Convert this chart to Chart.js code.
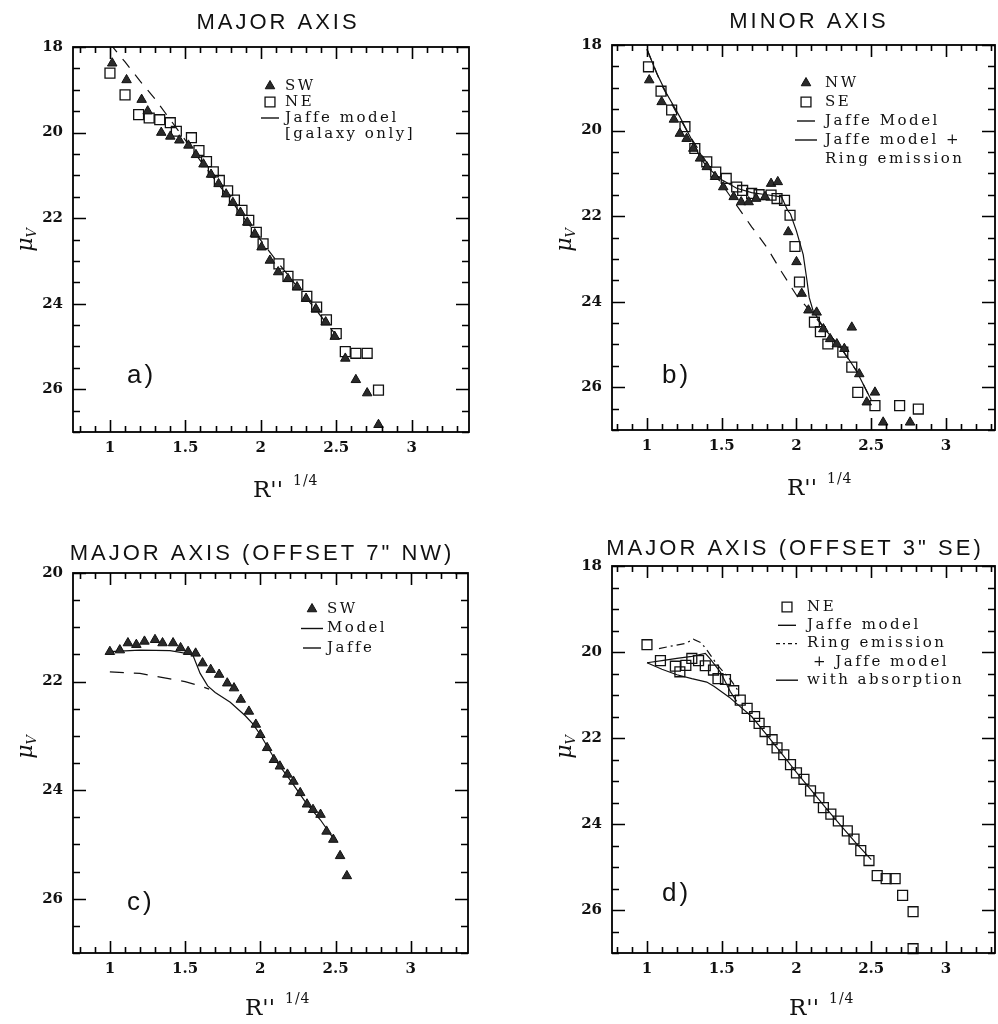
<!DOCTYPE html>
<html>
<head>
<meta charset="utf-8">
<script src="https://cdn.jsdelivr.net/npm/chart.js@4.4.0/dist/chart.umd.min.js"></script>
<style>
  html, body { margin: 0; padding: 0; background: #fff; overflow: hidden; width: 998px; height: 1024px; }
  .panel { position: absolute; }
</style>
</head>
<body>
<div class="panel" style="left:0;top:0"><canvas id="chartA" width="499" height="512"></canvas></div>
<div class="panel" style="left:499px;top:0"><canvas id="chartB" width="520" height="512"></canvas></div>
<div class="panel" style="left:0;top:512px"><canvas id="chartC" width="499" height="512"></canvas></div>
<div class="panel" style="left:499px;top:512px"><canvas id="chartD" width="520" height="512"></canvas></div>
<script>
// --- a) major axis ---
const aSwX = [1.015, 1.11, 1.21, 1.25, 1.34, 1.40, 1.46, 1.52, 1.57, 1.62, 1.67, 1.72, 1.77, 1.815, 1.865, 1.91, 1.96, 2.005, 2.06, 2.115, 2.18, 2.24, 2.30, 2.365, 2.43, 2.49, 2.56, 2.63, 2.705, 2.78];
const aSwY = [18.38, 18.77, 19.23, 19.5, 20.0, 20.09, 20.18, 20.3, 20.52, 20.74, 20.98, 21.2, 21.44, 21.64, 21.87, 22.1, 22.37, 22.68, 22.99, 23.26, 23.42, 23.61, 23.88, 24.12, 24.43, 24.77, 25.28, 25.78, 26.09, 26.83];
const aNeX = [1.0, 1.10, 1.19, 1.26, 1.33, 1.40, 1.44, 1.54, 1.59, 1.64, 1.685, 1.725, 1.78, 1.825, 1.875, 1.92, 1.97, 2.015, 2.12, 2.18, 2.245, 2.305, 2.37, 2.435, 2.5, 2.56, 2.63, 2.705, 2.78];
const aNeY = [18.61, 19.12, 19.58, 19.66, 19.70, 19.77, 19.97, 20.12, 20.42, 20.68, 20.92, 21.12, 21.36, 21.58, 21.82, 22.05, 22.33, 22.6, 23.07, 23.36, 23.56, 23.83, 24.08, 24.38, 24.7, 25.12, 25.16, 25.16, 26.02];
const aJaffeX = [1.0, 1.1, 1.2, 1.3, 1.4, 1.5, 1.6, 1.7, 1.8, 1.9, 2.0, 2.1, 2.2, 2.3, 2.4, 2.5];
const aJaffeY = [17.92, 18.35, 18.8, 19.22, 19.7, 20.18, 20.66, 21.12, 21.58, 22.05, 22.52, 22.98, 23.42, 23.86, 24.3, 24.74];

// --- b) minor axis ---
const bNwX = [1.015, 1.098, 1.18, 1.22, 1.265, 1.31, 1.355, 1.40, 1.455, 1.51, 1.58, 1.63, 1.68, 1.73, 1.79, 1.83, 1.875, 1.945, 2.0, 2.035, 2.08, 2.135, 2.18, 2.225, 2.27, 2.32, 2.37, 2.42, 2.47, 2.525, 2.58, 2.76];
const bNwY = [18.82, 19.33, 19.74, 20.07, 20.19, 20.42, 20.65, 20.85, 21.08, 21.32, 21.55, 21.67, 21.67, 21.59, 21.55, 21.24, 21.2, 22.37, 23.07, 23.81, 24.2, 24.25, 24.64, 24.87, 24.99, 25.1, 24.6, 25.69, 26.35, 26.12, 26.82, 26.82];
const bSeX = [1.01, 1.094, 1.165, 1.254, 1.32, 1.40, 1.46, 1.53, 1.60, 1.64, 1.70, 1.75, 1.83, 1.87, 1.92, 1.957, 1.99, 2.02, 2.12, 2.16, 2.21, 2.31, 2.37, 2.41, 2.525, 2.69, 2.815];
const bSeY = [18.51, 19.08, 19.52, 19.91, 20.42, 20.73, 20.97, 21.12, 21.32, 21.40, 21.47, 21.5, 21.51, 21.59, 21.63, 21.98, 22.71, 23.54, 24.48, 24.7, 24.99, 25.18, 25.53, 26.12, 26.43, 26.43, 26.51];
const bJaffeX = [1.0, 1.1, 1.2, 1.3, 1.4, 1.5, 1.6, 1.7, 1.8, 1.9, 2.0, 2.1, 2.2, 2.3, 2.4, 2.5];
const bJaffeY = [18.1, 18.95, 19.6, 20.2, 20.75, 21.25, 21.75, 22.25, 22.72, 23.3, 23.85, 24.25, 24.68, 25.1, 25.61, 26.3];
const bRingX = [1.0, 1.065, 1.13, 1.22, 1.30, 1.355, 1.4, 1.5, 1.6, 1.7, 1.8, 1.9, 1.94, 1.96, 2.0, 2.045, 2.07, 2.085, 2.11, 2.18, 2.31, 2.4, 2.5];
const bRingY = [18.1, 18.66, 19.13, 19.68, 20.22, 20.62, 20.85, 21.15, 21.35, 21.45, 21.5, 21.55, 21.86, 21.95, 22.35, 22.9, 23.5, 23.9, 24.2, 24.6, 25.14, 25.61, 26.3];

// --- c) major axis, offset 7" NW ---
const cSwX = [1.0, 1.066, 1.12, 1.176, 1.23, 1.30, 1.35, 1.42, 1.47, 1.52, 1.57, 1.616, 1.67, 1.726, 1.78, 1.825, 1.87, 1.924, 1.97, 2.0, 2.045, 2.09, 2.13, 2.18, 2.22, 2.265, 2.31, 2.35, 2.40, 2.44, 2.485, 2.53, 2.575];
const cSwY = [21.45, 21.42, 21.29, 21.32, 21.26, 21.23, 21.29, 21.29, 21.38, 21.45, 21.48, 21.66, 21.78, 21.87, 22.03, 22.12, 22.33, 22.55, 22.79, 22.98, 23.22, 23.44, 23.56, 23.71, 23.84, 24.05, 24.26, 24.36, 24.45, 24.76, 24.91, 25.21, 25.58];
const cModelX = [1.0, 1.2, 1.4, 1.55, 1.6, 1.65, 1.7, 1.8, 1.9, 1.95, 2.0, 2.1, 2.2, 2.3, 2.4, 2.5];
const cModelY = [21.45, 21.42, 21.43, 21.5, 21.85, 22.08, 22.2, 22.38, 22.63, 22.78, 22.98, 23.45, 23.82, 24.22, 24.55, 24.95];
const cJaffeX = [1.0, 1.2, 1.4, 1.5, 1.6, 1.66];
const cJaffeY = [21.82, 21.85, 21.95, 22.0, 22.08, 22.14];

// --- d) major axis, offset 3" SE ---
const dNeX = [1.0, 1.09, 1.19, 1.22, 1.26, 1.30, 1.345, 1.39, 1.445, 1.475, 1.525, 1.58, 1.624, 1.67, 1.72, 1.75, 1.79, 1.837, 1.87, 1.915, 1.96, 2.0, 2.05, 2.094, 2.15, 2.18, 2.23, 2.28, 2.34, 2.385, 2.43, 2.485, 2.54, 2.60, 2.66, 2.71, 2.78, 2.78];
const dNeY = [19.83, 20.2, 20.33, 20.46, 20.31, 20.15, 20.2, 20.32, 20.42, 20.62, 20.64, 20.9, 21.12, 21.31, 21.5, 21.66, 21.85, 22.04, 22.23, 22.39, 22.62, 22.81, 22.96, 23.23, 23.39, 23.62, 23.77, 23.93, 24.16, 24.35, 24.62, 24.85, 25.2, 25.27, 25.27, 25.66, 26.04, 26.9];
const dJaffeX = [1.0, 1.1, 1.2, 1.3, 1.4, 1.45, 1.55, 1.6, 1.7, 1.8, 1.9, 2.0, 2.1, 2.2, 2.3, 2.4, 2.5];
const dJaffeY = [20.25, 20.4, 20.53, 20.62, 20.7, 20.8, 21.05, 21.2, 21.5, 21.92, 22.36, 22.8, 23.22, 23.64, 24.05, 24.45, 24.83];
const dRingX = [1.08, 1.18, 1.26, 1.31, 1.36, 1.40, 1.47, 1.56, 1.62];
const dRingY = [19.92, 19.85, 19.8, 19.7, 19.78, 19.95, 20.3, 20.65, 20.95];
const dAbsX = [1.0, 1.1, 1.2, 1.3, 1.39, 1.42, 1.49, 1.557, 1.6];
const dAbsY = [20.25, 20.2, 20.15, 20.1, 20.03, 20.15, 20.46, 20.92, 21.15];

// helpers
function pts(xs, ys) { return xs.map((x, i) => ({ x: x, y: ys[i] })); }
function triSet(label, xs, ys) {
  return { label, data: pts(xs, ys), pointStyle: 'triangle', pointRadius: 5.5, backgroundColor: '#2a2a2a',
    borderColor: '#111', borderWidth: 1, showLine: false, order: 0, clip: false };
}
function sqSet(label, xs, ys) {
  return { label, data: pts(xs, ys), pointStyle: 'rect', pointRadius: 7, backgroundColor: 'rgba(255,255,255,0)',
    borderColor: '#111', borderWidth: 1.3, showLine: false, order: 0, clip: false };
}
function lineSet(label, xs, ys, dash) {
  return { label, data: pts(xs, ys), showLine: true, pointRadius: 0, borderColor: '#111', borderWidth: 1.2,
    borderDash: dash || [], tension: 0, order: 1 };
}

// inward ticks on all four sides + box
const frame = {
  id: 'frame',
  afterDraw(chart) {
    const ctx = chart.ctx;
    const a = chart.chartArea;
    const xs = chart.scales.x, ys = chart.scales.y;
    ctx.save();
    ctx.setLineDash([]);
    ctx.globalAlpha = 1;
    ctx.strokeStyle = '#000';
    ctx.lineWidth = 1.8;
    ctx.strokeRect(a.left, a.top, a.right - a.left, a.bottom - a.top);
    ctx.lineWidth = 1.6;
    const i0 = Math.ceil(xs.min * 10 - 1e-6), i1 = Math.floor(xs.max * 10 + 1e-6);
    for (let i = i0; i <= i1; i++) {
      const len = i % 5 === 0 ? 12 : 6;
      const px = Math.round(xs.getPixelForValue(i / 10)) + 0.5;
      ctx.beginPath();
      ctx.moveTo(px, a.bottom); ctx.lineTo(px, a.bottom - len);
      ctx.moveTo(px, a.top); ctx.lineTo(px, a.top + len);
      ctx.stroke();
    }
    const j0 = Math.ceil(ys.min * 2 - 1e-6), j1 = Math.floor(ys.max * 2 + 1e-6);
    for (let j = j0; j <= j1; j++) {
      const len = j % 4 === 0 ? 13 : 7;
      const py = Math.round(ys.getPixelForValue(j / 2)) + 0.5;
      ctx.beginPath();
      ctx.moveTo(a.left, py); ctx.lineTo(a.left + len, py);
      ctx.moveTo(a.right, py); ctx.lineTo(a.right - len, py);
      ctx.stroke();
    }
    ctx.restore();
  }
};

// titles, axis names, panel tag and legend
const decor = {
  id: 'decor',
  afterDraw(chart, args, o) {
    const ctx = chart.ctx;
    ctx.save();
    ctx.fillStyle = '#111';
    ctx.textBaseline = 'alphabetic';

    ctx.font = '22px "Liberation Sans"';
    ctx.letterSpacing = '3px';
    ctx.textAlign = 'center';
    ctx.fillText(o.title.text, o.title.x, o.title.y);

    ctx.textAlign = 'left';
    ctx.font = '26px "Liberation Sans"';
    ctx.fillText(o.tag.text, o.tag.x, o.tag.y);

    ctx.letterSpacing = '0px';
    ctx.font = '23px "DejaVu Serif"';
    ctx.fillText("R''", o.xTitle.x, o.xTitle.y);
    ctx.font = '14px "DejaVu Serif"';
    ctx.letterSpacing = '1px';
    ctx.fillText('1/4', o.xTitle.x + 40, o.xTitle.y - 12);
    ctx.letterSpacing = '0px';

    // mu_V, rotated
    ctx.save();
    ctx.translate(o.yTitle.x, o.yTitle.y);
    ctx.rotate(-Math.PI / 2);
    ctx.font = 'italic 22px "DejaVu Serif"';
    const w1 = ctx.measureText('\u03bc').width;
    ctx.font = 'italic 13px "DejaVu Serif"';
    const w2 = ctx.measureText('V').width;
    const sx = -(w1 + w2) / 2;
    ctx.font = 'italic 22px "DejaVu Serif"';
    ctx.fillText('\u03bc', sx, 6);
    ctx.font = 'italic 13px "DejaVu Serif"';
    ctx.fillText('V', sx + w1, 10);
    ctx.restore();

    // legend
    const lg = o.legend;
    ctx.font = '15px "DejaVu Serif"';
    ctx.letterSpacing = '2.5px';
    ctx.textBaseline = 'middle';
    lg.items.forEach((it, i) => {
      const yy = lg.y + i * lg.dy;
      if (it.ds !== undefined) {
        const ds = chart.data.datasets[it.ds];
        ctx.save();
        if (ds.pointRadius > 0) {
          ctx.fillStyle = ds.backgroundColor;
          ctx.strokeStyle = ds.borderColor;
          ctx.lineWidth = ds.borderWidth;
          Chart.helpers.drawPoint(ctx, { pointStyle: ds.pointStyle, radius: ds.pointRadius, borderWidth: ds.borderWidth, rotation: 0 }, lg.mx, yy);
        } else {
          ctx.strokeStyle = ds.borderColor;
          ctx.lineWidth = 1.4;
          ctx.setLineDash(it.dash || []);
          const half = (it.len || 18) / 2;
          ctx.beginPath();
          ctx.moveTo(lg.mx - half, yy); ctx.lineTo(lg.mx + half, yy);
          ctx.stroke();
        }
        ctx.restore();
      }
      ctx.fillText(it.text, lg.tx + (it.indent || 0), yy);
    });
    ctx.restore();
  }
};

function makeChart(id, datasets, p) {
  return new Chart(document.getElementById(id), {
    type: 'scatter',
    data: { datasets: datasets },
    options: {
      responsive: false,
      animation: false,
      layout: { padding: { left: 0, top: p.padT, right: p.padR, bottom: p.padB } },
      plugins: {
        legend: { display: false },
        tooltip: { enabled: false },
        decor: p.decor
      },
      scales: {
        x: {
          type: 'linear', min: p.xMin, max: p.xMax,
          grid: { display: false, drawTicks: false }, border: { display: false },
          ticks: { stepSize: 0.5, includeBounds: false, padding: 7, color: '#111', maxRotation: 0,
            font: { family: 'DejaVu Serif', size: 15, weight: 'bold' }, callback: v => String(v) },
          afterFit: s => { s.height = 60; }
        },
        y: {
          type: 'linear', reverse: true, min: p.yMin, max: 27,
          grid: { display: false, drawTicks: false }, border: { display: false },
          ticks: { stepSize: 2, includeBounds: false, padding: 10, color: '#111',
            font: { family: 'DejaVu Serif', size: 15, weight: 'bold' }, callback: v => String(v) },
          afterFit: s => { s.width = p.yW; }
        }
      }
    },
    plugins: [frame, decor]
  });
}

makeChart('chartA', [
  triSet('SW', aSwX, aSwY),
  sqSet('NE', aNeX, aNeY),
  lineSet('Jaffe model', aJaffeX, aJaffeY, [11, 9])
], {
  padT: 47, padR: 30, padB: 20, yW: 73, xMin: 0.755, xMax: 3.38, yMin: 18,
  decor: {
    title: { text: 'MAJOR AXIS', x: 278, y: 29 },
    tag: { text: 'a)', x: 127, y: 383 },
    xTitle: { x: 253, y: 497 },
    yTitle: { x: 26, y: 240 },
    legend: { mx: 270, tx: 285, y: 86, dy: 16, items: [
      { ds: 0, text: 'SW' }, { ds: 1, text: 'NE' }, { ds: 2, text: 'Jaffe model' }, { text: '[galaxy only]' }
    ] }
  }
});

makeChart('chartB', [
  triSet('NW', bNwX, bNwY),
  sqSet('SE', bSeX, bSeY),
  lineSet('Jaffe Model', bJaffeX, bJaffeY, [11, 9]),
  lineSet('Jaffe model + Ring emission', bRingX, bRingY)
], {
  padT: 45, padR: 24, padB: 22, yW: 113, xMin: 0.766, xMax: 3.328, yMin: 18,
  decor: {
    title: { text: 'MINOR AXIS', x: 310, y: 28 },
    tag: { text: 'b)', x: 163, y: 383 },
    xTitle: { x: 288, y: 495 },
    yTitle: { x: 66, y: 240 },
    legend: { mx: 307, tx: 326, y: 83, dy: 19, items: [
      { ds: 0, text: 'NW' }, { ds: 1, text: 'SE' }, { ds: 2, text: 'Jaffe Model' },
      { ds: 3, text: 'Jaffe model +', len: 22 }, { text: 'Ring emission' }
    ] }
  }
});

makeChart('chartC', [
  triSet('SW', cSwX, cSwY),
  lineSet('Model', cModelX, cModelY),
  lineSet('Jaffe', cJaffeX, cJaffeY, [14, 10])
], {
  padT: 61, padR: 31, padB: 11, yW: 73, xMin: 0.755, xMax: 3.38, yMin: 20,
  decor: {
    title: { text: 'MAJOR AXIS (OFFSET 7" NW)', x: 262, y: 48 },
    tag: { text: 'c)', x: 127, y: 398 },
    xTitle: { x: 245, y: 503 },
    yTitle: { x: 26, y: 235 },
    legend: { mx: 312, tx: 327, y: 97, dy: 19.5, items: [
      { ds: 0, text: 'SW' }, { ds: 1, text: 'Model', len: 22 }, { ds: 2, text: 'Jaffe' }
    ] }
  }
});

makeChart('chartD', [
  sqSet('NE', dNeX, dNeY),
  lineSet('Jaffe model', dJaffeX, dJaffeY),
  lineSet('Ring emission + Jaffe model', dRingX, dRingY, [8, 4, 2, 4]),
  lineSet('with absorption', dAbsX, dAbsY)
], {
  padT: 54, padR: 24, padB: 11, yW: 113, xMin: 0.766, xMax: 3.328, yMin: 18,
  decor: {
    title: { text: 'MAJOR AXIS (OFFSET 3" SE)', x: 296, y: 43 },
    tag: { text: 'd)', x: 163, y: 389 },
    xTitle: { x: 290, y: 503 },
    yTitle: { x: 66, y: 235 },
    legend: { mx: 288, tx: 308, y: 95, dy: 18.3, items: [
      { ds: 0, text: 'NE' }, { ds: 1, text: 'Jaffe model' },
      { ds: 2, text: 'Ring emission', dash: [4, 3, 2, 3], len: 22 },
      { text: '+ Jaffe model', indent: 6 }, { ds: 3, text: 'with absorption', len: 22 }
    ] }
  }
});
</script>
</body>
</html>
